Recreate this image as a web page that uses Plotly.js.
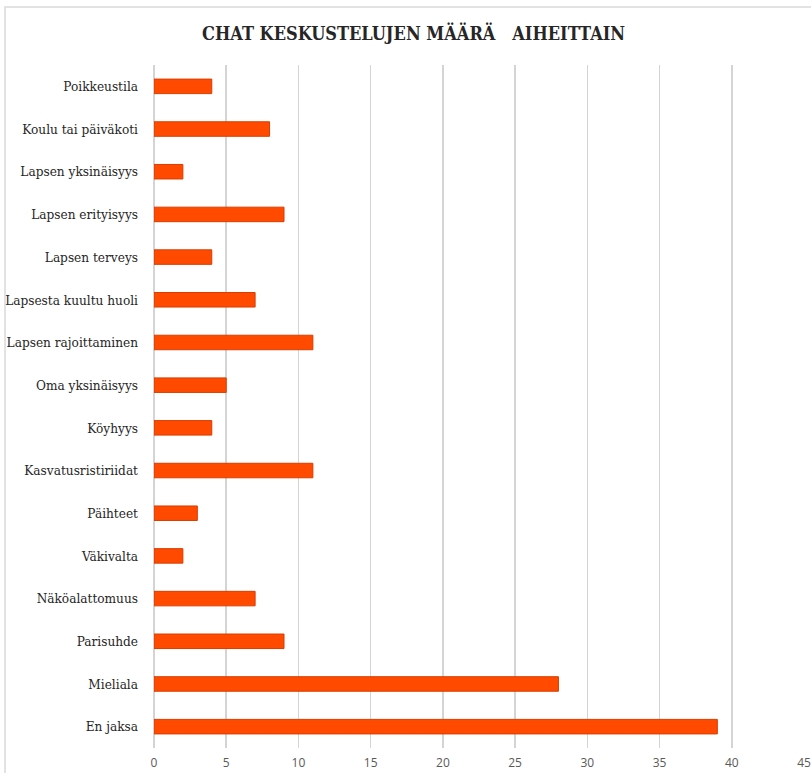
<!DOCTYPE html>
<html>
<head>
<meta charset="utf-8">
<script src="https://cdn.plot.ly/plotly-3.0.1.min.js"></script>
<style>html,body{margin:0;padding:0;background:#fff;}#chart{width:811px;height:773px;}</style>
</head>
<body>
<div id="chart"></div>
<script>
const categories = [
  "Poikkeustila", "Koulu tai päiväkoti", "Lapsen yksinäisyys", "Lapsen erityisyys",
  "Lapsen terveys", "Lapsesta kuultu huoli", "Lapsen rajoittaminen", "Oma yksinäisyys",
  "Köyhyys", "Kasvatusristiriidat", "Päihteet", "Väkivalta", "Näköalattomuus",
  "Parisuhde", "Mieliala", "En jaksa"
];
const counts = [4, 8, 2, 9, 4, 7, 11, 5, 4, 11, 3, 2, 7, 9, 28, 39];
const xTicks = [0, 5, 10, 15, 20, 25, 30, 35, 40, 45];
const titleText = "CHAT KESKUSTELUJEN MÄÄRÄ&nbsp;&nbsp;&nbsp;AIHEITTAIN";

const serif = "'DejaVu Serif Condensed', 'DejaVu Serif', serif";

const trace = {
  type: "bar",
  orientation: "h",
  y: categories,
  x: counts,
  width: 0.34,
  marker: { color: "#FF4a00", line: { color: "#D83E00", width: 1 } },
  hoverinfo: "x+y"
};

const layout = {
  width: 811, height: 773,
  margin: { l: 154, r: 7, t: 65, b: 25 },
  paper_bgcolor: "#ffffff", plot_bgcolor: "#ffffff",
  showlegend: false,
  title: {
    text: titleText,
    font: { family: serif, size: 18, color: "#262626", weight: "bold" },
    xref: "container", x: 0.51, xanchor: "center",
    yref: "container", y: 0.957, yanchor: "middle"
  },
  xaxis: {
    range: [0, 45], tickvals: xTicks, ticktext: xTicks.map(String),
    showgrid: true, gridcolor: "#d4d4d4", gridwidth: 1.5,
    zeroline: true, zerolinecolor: "#d4d4d4", zerolinewidth: 1.5,
    showline: false, ticks: "",
    ticklabelstandoff: 6,
    tickfont: { family: "'Open Sans', sans-serif", size: 12, color: "#595959" },
    fixedrange: true
  },
  yaxis: {
    type: "category", categoryorder: "array", categoryarray: categories,
    autorange: "reversed",
    showgrid: false, zeroline: false, showline: false, ticks: "",
    ticklabelstandoff: 15,
    tickfont: { family: serif, size: 13.5, color: "#262626" },
    fixedrange: true
  },
  shapes: [{
    type: "rect", xref: "paper", yref: "paper",
    x0: (5 - 154) / 650, x1: 1.2, y0: -0.2, y1: (748 - 7) / 683,
    line: { color: "#d9d9d9", width: 1.5 }, fillcolor: "rgba(0,0,0,0)", layer: "below"
  }]
};

Plotly.newPlot("chart", [trace], layout, { displayModeBar: false, staticPlot: true });
</script>
</body>
</html>
